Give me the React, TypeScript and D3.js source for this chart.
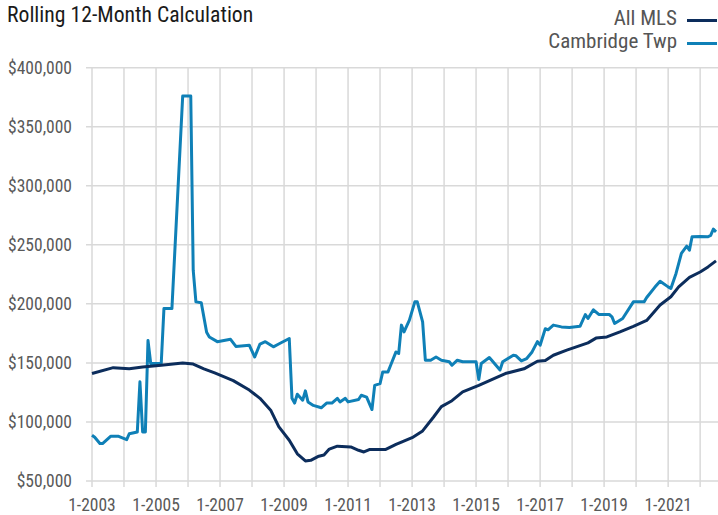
import { useEffect, useRef } from "react"
import * as d3 from "d3"

const chartTitle = "Rolling 12-Month Calculation"
const seriesNames = ["All MLS", "Cambridge Twp"]
const seriesColors = ["#0c2d5c", "#0f80b7"]

// All MLS, rolling 12-month median price
const allMlsMonths = [
  "2003-01", "2003-09", "2004-03", "2004-08", "2005-03", "2005-11", "2006-03", "2006-07",
  "2006-11", "2007-06", "2007-12", "2008-04", "2008-08", "2008-11", "2009-03", "2009-06",
  "2009-09", "2009-11", "2010-02", "2010-04", "2010-06", "2010-09", "2011-02", "2011-05",
  "2011-07", "2011-09", "2012-03", "2012-07", "2012-09", "2013-01", "2013-05", "2013-09",
  "2013-12", "2014-04", "2014-08", "2015-02", "2015-09", "2015-12", "2016-07", "2016-12",
  "2017-03", "2017-06", "2017-11", "2018-07", "2018-10", "2019-02", "2019-07", "2019-12",
  "2020-05", "2020-10", "2021-02", "2021-05", "2021-09", "2022-01", "2022-04", "2022-07"
]
const allMlsValues = [
  141000, 146000, 145000, 146500, 148000, 150000, 149000, 145000,
  141500, 135000, 127000, 120000, 110000, 96000, 84500, 73000,
  67000, 67500, 71000, 72000, 77000, 79500, 78800, 76000,
  74600, 76600, 76600, 81000, 83000, 86700, 92400, 104000,
  113000, 118000, 125400, 131000, 138000, 141000, 145000, 151400,
  152000, 156500, 160800, 167000, 171000, 172000, 176300, 181000,
  186000, 199000, 206000, 214400, 222400, 227000, 231300, 236400
]

// Cambridge Twp
const cambridgeMonths = [
  "2003-01", "2003-02", "2003-04", "2003-05", "2003-08", "2003-11", "2004-02", "2004-03",
  "2004-06", "2004-07", "2004-08", "2004-09", "2004-10", "2004-11", "2005-03", "2005-04",
  "2005-07", "2005-11", "2006-02", "2006-03", "2006-04", "2006-06", "2006-08", "2006-09",
  "2006-12", "2007-05", "2007-07", "2007-12", "2008-02", "2008-04", "2008-06", "2008-09",
  "2008-11", "2009-03", "2009-04", "2009-05", "2009-06", "2009-08", "2009-09", "2009-10",
  "2009-12", "2010-03", "2010-05", "2010-07", "2010-09", "2010-10", "2010-12", "2011-01",
  "2011-05", "2011-06", "2011-08", "2011-10", "2011-11", "2012-01", "2012-02", "2012-04",
  "2012-05", "2012-07", "2012-08", "2012-09", "2012-10", "2012-12", "2013-02", "2013-03",
  "2013-05", "2013-06", "2013-08", "2013-10", "2013-12", "2014-03", "2014-04", "2014-06",
  "2014-08", "2014-12", "2015-01", "2015-02", "2015-03", "2015-06", "2015-07", "2015-10",
  "2015-11", "2016-03", "2016-04", "2016-06", "2016-08", "2016-10", "2016-12", "2017-01",
  "2017-03", "2017-04", "2017-06", "2017-09", "2017-12", "2018-04", "2018-06", "2018-07",
  "2018-09", "2018-11", "2019-03", "2019-04", "2019-05", "2019-08", "2019-12", "2020-04",
  "2020-05", "2020-08", "2020-10", "2021-01", "2021-02", "2021-04", "2021-06", "2021-08",
  "2021-09", "2021-10", "2022-01", "2022-04", "2022-05", "2022-06", "2022-07"
]
const cambridgeValues = [
  88700, 87000, 81700, 81700, 87800, 87800, 85000, 90000,
  91500, 134000, 91500, 91500, 169000, 149500, 149500, 196000,
  196000, 376000, 376000, 228500, 201700, 201000, 176000, 172000,
  168000, 170000, 164000, 165000, 155000, 166000, 168000, 163600,
  166000, 170700, 120000, 116000, 123500, 118400, 126300, 117000,
  114000, 112000, 116000, 116000, 120000, 117000, 120000, 117000,
  119000, 122600, 121000, 110500, 131000, 132500, 142400, 142400,
  148000, 159300, 158000, 182000, 176300, 186200, 201700, 201700,
  184700, 152300, 152300, 155000, 152300, 151000, 148000, 152300,
  151000, 151000, 151000, 136000, 149500, 154600, 152000, 144000,
  151000, 156500, 156000, 151700, 153700, 159300, 168000, 165000,
  179000, 178000, 182000, 180500, 180000, 181000, 191000, 187600,
  195000, 191000, 191000, 189000, 183400, 187600, 201700, 201700,
  205400, 214000, 219200, 214400, 213000, 225800, 242700, 248900,
  245500, 256800, 257000, 256800, 258000, 263300, 261000
]

const yTicks = [50000, 100000, 150000, 200000, 250000, 300000, 350000, 400000]
const gridYears = d3.range(2003, 2023)
const labelYears = [2003, 2005, 2007, 2009, 2011, 2013, 2015, 2017, 2019, 2021]

interface Point {
  date: Date
  value: number
}

const parseMonth = d3.timeParse("%Y-%m")
const toPoints = (months: string[], values: number[]): Point[] =>
  months.map((m, i) => ({ date: parseMonth(m) as Date, value: values[i] }))

const font = "'Liberation Sans Narrow', 'Roboto Condensed', Roboto, 'Liberation Sans', sans-serif"

export default function App() {
  const svgRef = useRef<SVGSVGElement>(null)
  const width = 718
  const height = 515

  useEffect(() => {
    if (!svgRef.current) return
    const svg = d3.select(svgRef.current)
    svg.selectAll("*").remove()

    const x = d3
      .scaleTime()
      .domain([new Date(2003, 0, 1), new Date(2022, 6, 1)])
      .range([92, 716])

    const y = d3.scaleLinear().domain([50000, 400000]).range([481, 67.7])

    // horizontal grid
    svg
      .append("g")
      .selectAll("line")
      .data(yTicks)
      .enter()
      .append("line")
      .attr("x1", 86)
      .attr("x2", width)
      .attr("y1", (d) => y(d))
      .attr("y2", (d) => y(d))
      .attr("stroke", "#d9d9d9")
      .attr("stroke-width", 1.5)

    // vertical grid with tick stubs below
    svg
      .append("g")
      .selectAll("line")
      .data(gridYears)
      .enter()
      .append("line")
      .attr("x1", (d) => x(new Date(d, 0, 1)))
      .attr("x2", (d) => x(new Date(d, 0, 1)))
      .attr("y1", y(400000))
      .attr("y2", y(50000) + 6)
      .attr("stroke", "#d9d9d9")
      .attr("stroke-width", 1.5)

    // y labels
    svg
      .append("g")
      .selectAll("text")
      .data(yTicks)
      .enter()
      .append("text")
      .attr("x", 72)
      .attr("y", (d) => y(d))
      .attr("dy", "0.36em")
      .attr("text-anchor", "end")
      .attr("fill", "#595959")
      .style("font-family", font)
      .style("font-size", "17.5px")
      .text((d) => d3.format("$,")(d))

    // x labels
    svg
      .append("g")
      .selectAll("text")
      .data(labelYears)
      .enter()
      .append("text")
      .attr("x", (d) => x(new Date(d, 0, 1)))
      .attr("y", 511)
      .attr("text-anchor", "middle")
      .attr("fill", "#595959")
      .style("font-family", font)
      .style("font-size", "17.5px")
      .text((d) => `1-${d}`)

    const line = d3
      .line<Point>()
      .x((d) => x(d.date))
      .y((d) => y(d.value))
      .curve(d3.curveLinear)

    const series = [toPoints(allMlsMonths, allMlsValues), toPoints(cambridgeMonths, cambridgeValues)]

    // draw Cambridge first so All MLS sits on top where they cross
    ;[1, 0].forEach((i) => {
      svg
        .append("path")
        .datum(series[i])
        .attr("fill", "none")
        .attr("stroke", seriesColors[i])
        .attr("stroke-width", 3)
        .attr("stroke-linejoin", "round")
        .attr("d", line)
    })

    // title
    svg
      .append("text")
      .attr("x", 7)
      .attr("y", 22)
      .attr("fill", "#1a1a1a")
      .style("font-family", font)
      .style("font-size", "21.7px")
      .text(chartTitle)

    // legend
    const legend = svg.append("g")
    seriesNames.forEach((name, i) => {
      const ly = 20.5 + i * 23
      legend
        .append("line")
        .attr("x1", 687)
        .attr("x2", 717)
        .attr("y1", ly)
        .attr("y2", ly)
        .attr("stroke", seriesColors[i])
        .attr("stroke-width", 3)
      legend
        .append("text")
        .attr("x", 677)
        .attr("y", ly + 4.5)
        .attr("text-anchor", "end")
        .attr("fill", "#555")
        .style("font-family", font)
        .style("font-size", "21px")
        .text(name)
    })
  }, [])

  return (
    <svg
      ref={svgRef}
      width={width}
      height={height}
      style={{ position: "absolute", left: 0, top: 0, background: "#fff" }}
    />
  )
}
